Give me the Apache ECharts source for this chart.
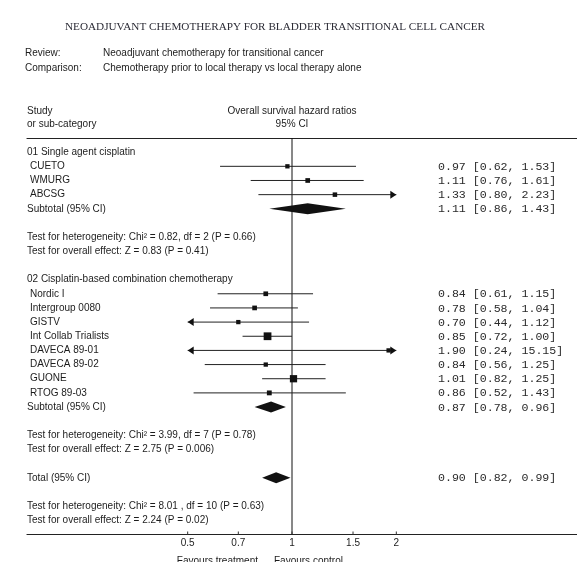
<!DOCTYPE html>
<html><head><meta charset="utf-8">
<script src="https://cdn.jsdelivr.net/npm/echarts@6/dist/echarts.min.js"></script>
<style>html,body{margin:0;padding:0;background:#fff;}#c{width:577px;height:562px;}</style>
</head><body><div id="c"></div><script>
// ---------- data ----------
const titleText = 'NEOADJUVANT CHEMOTHERAPY FOR BLADDER TRANSITIONAL CELL CANCER';
const reviewText = 'Neoadjuvant chemotherapy for transitional cancer';
const comparisonText = 'Chemotherapy prior to local therapy vs local therapy alone';
const outcomeTitle = ['Overall survival hazard ratios', '95% CI'];
const studyHeader = ['Study', 'or sub-category'];

const group1Title = '01 Single agent cisplatin';
const group1Studies = ['CUETO', 'WMURG', 'ABCSG'];
const group1HR = [0.97, 1.11, 1.33];
const group1Lower = [0.62, 0.76, 0.80];
const group1Upper = [1.53, 1.61, 2.23];
const group1Weight = [4, 6, 5];
const group1Subtotal = [1.11, 0.86, 1.43];
const group1Tests = ['Test for heterogeneity: Chi\u00b2 = 0.82, df = 2 (P = 0.66)', 'Test for overall effect: Z = 0.83 (P = 0.41)'];

const group2Title = '02 Cisplatin-based combination chemotherapy';
const group2Studies = ['Nordic I', 'Intergroup 0080', 'GISTV', 'Int Collab Trialists', 'DAVECA 89-01', 'DAVECA 89-02', 'GUONE', 'RTOG 89-03'];
const group2HR = [0.84, 0.78, 0.70, 0.85, 1.90, 0.84, 1.01, 0.86];
const group2Lower = [0.61, 0.58, 0.44, 0.72, 0.24, 0.56, 0.82, 0.52];
const group2Upper = [1.15, 1.04, 1.12, 1.00, 15.15, 1.25, 1.25, 1.43];
const group2Weight = [6, 6, 4, 37, 4, 4, 30, 7];
const group2Subtotal = [0.87, 0.78, 0.96];
const group2Tests = ['Test for heterogeneity: Chi\u00b2 = 3.99, df = 7 (P = 0.78)', 'Test for overall effect: Z = 2.75 (P = 0.006)'];

const totalLabel = 'Total (95% CI)';
const totalValues = [0.90, 0.82, 0.99];
const totalTests = ['Test for heterogeneity: Chi\u00b2 = 8.01 , df = 10 (P = 0.63)', 'Test for overall effect: Z = 2.24 (P = 0.02)'];

const axisTicks = [0.5, 0.7, 1, 1.5, 2];
const axisTickLabels = ['0.5', '0.7', '1', '1.5', '2'];
const favoursLabels = ['Favours treatment', 'Favours control'];

// ---------- layout ----------
const plotMin = 0.5, plotMax = 2;        // display limits (arrows beyond)
const pxPerUnit = 150.5, oneX = 292, gridLeft = 27, gridRight = 0, W = 577;
const xMin = -(oneX - gridLeft) / pxPerUnit;
const xMax = (W - gridRight - oneX) / pxPerUnit;
const ciTextX = 438;
const ln = v => Math.log(v);
const f2 = v => v.toFixed(2);

// build rows
const rows = [];
let pos = 0;
function addGroup(title, names, hr, lo, hi, w, sub, tests) {
  rows.push({type: 'header', text: title, pos: pos++});
  names.forEach((n, i) => rows.push({type: 'study', text: n, hr: hr[i], lo: lo[i], hi: hi[i], w: w[i], pos: pos++}));
  rows.push({type: 'diamond', text: 'Subtotal (95% CI)', hr: sub[0], lo: sub[1], hi: sub[2], pos: pos++});
  pos++;
  tests.forEach(t => rows.push({type: 'header', text: t, pos: pos++}));
  pos++;
}
addGroup(group1Title, group1Studies, group1HR, group1Lower, group1Upper, group1Weight, group1Subtotal, group1Tests);
addGroup(group2Title, group2Studies, group2HR, group2Lower, group2Upper, group2Weight, group2Subtotal, group2Tests);
rows.push({type: 'diamond', text: totalLabel, hr: totalValues[0], lo: totalValues[1], hi: totalValues[2], pos: pos++});
pos++;
totalTests.forEach(t => rows.push({type: 'header', text: t, pos: pos++}));
const lastRow = pos; // axis row

const TXT = '#1c1c1c';
const sans = 'Liberation Sans, Arial, sans-serif';
const mono = 'Liberation Mono, Courier New, monospace';

function renderRow(params, api) {
  const r = rows[api.value(2)];
  const y = api.coord([0, r.pos])[1];
  const left = api.coord([xMin, r.pos])[0];
  const children = [];
  const indent = r.type === 'study' ? 3 : 0;
  children.push({type: 'text', style: {text: r.text, x: left + indent, y: y, fill: TXT, font: '10px ' + sans, textVerticalAlign: 'middle', textAlign: 'left'}});
  if (r.type === 'study' || r.type === 'diamond') {
    children.push({type: 'text', style: {text: f2(r.hr) + ' [' + f2(r.lo) + ', ' + f2(r.hi) + ']', x: ciTextX, y: y + 0.5, fill: '#2a2a2a', font: '11.6px ' + mono, textVerticalAlign: 'middle', textAlign: 'left'}});
  }
  if (r.type === 'study') {
    const xl = api.coord([ln(Math.max(r.lo, plotMin)), r.pos])[0];
    const xh = api.coord([ln(Math.min(r.hi, plotMax)), r.pos])[0];
    const xc = api.coord([ln(r.hr), r.pos])[0];
    children.push({type: 'line', shape: {x1: xl, y1: y, x2: xh, y2: y}, style: {stroke: '#222', lineWidth: 1}});
    if (r.lo < plotMin) children.push({type: 'polygon', shape: {points: [[xl, y], [xl + 6, y - 4], [xl + 6, y + 4]]}, style: {fill: '#111'}});
    if (r.hi > plotMax) children.push({type: 'polygon', shape: {points: [[xh, y], [xh - 6, y - 4], [xh - 6, y + 4]]}, style: {fill: '#111'}});
    const s = 2.6 + 0.85 * Math.sqrt(r.w);
    children.push({type: 'rect', shape: {x: xc - s / 2, y: y - s / 2, width: s, height: s}, style: {fill: '#111'}});
  }
  if (r.type === 'diamond') {
    const xl = api.coord([ln(r.lo), r.pos])[0];
    const xh = api.coord([ln(r.hi), r.pos])[0];
    const xc = api.coord([ln(r.hr), r.pos])[0];
    children.push({type: 'polygon', shape: {points: [[xl, y], [xc, y - 5.5], [xh, y], [xc, y + 5.5]]}, style: {fill: '#111'}});
  }
  return {type: 'group', children};
}

function renderTick(params, api) {
  const v = axisTicks[api.value(2)];
  const p = api.coord([ln(v), lastRow]);
  return {type: 'group', children: [
    {type: 'line', shape: {x1: p[0], y1: p[1] - 3, x2: p[0], y2: p[1]}, style: {stroke: '#333', lineWidth: 1}},
    {type: 'text', style: {text: axisTickLabels[api.value(2)], x: p[0], y: p[1] + 9, fill: TXT, font: '10px ' + sans, textAlign: 'center', textVerticalAlign: 'middle'}}
  ]};
}

function renderRef(params, api) {
  const top = api.coord([0, -1]);
  const bot = api.coord([0, lastRow]);
  return {type: 'group', children: [
    {type: 'line', shape: {x1: top[0], y1: top[1], x2: bot[0], y2: bot[1]}, style: {stroke: '#111', lineWidth: 1}},
    {type: 'text', style: {text: favoursLabels[0], x: bot[0] - 34, y: bot[1] + 27, fill: TXT, font: '10px ' + sans, textAlign: 'right', textVerticalAlign: 'middle'}},
    {type: 'text', style: {text: favoursLabels[1], x: bot[0] - 18, y: bot[1] + 27, fill: TXT, font: '10px ' + sans, textAlign: 'left', textVerticalAlign: 'middle'}}
  ]};
}

const chart = echarts.init(document.getElementById('c'), null, {renderer: 'canvas'});
const axisLineStyle = {show: true, onZero: false, lineStyle: {color: '#222', width: 1.2}};
chart.setOption({
  animation: false,
  backgroundColor: '#fff',
  grid: {left: gridLeft, right: gridRight, top: 138, bottom: 27.5},
  xAxis: [
    {type: 'value', min: xMin, max: xMax, position: 'bottom', axisLine: axisLineStyle, axisTick: {show: false}, axisLabel: {show: false}, splitLine: {show: false}},
    {type: 'value', min: xMin, max: xMax, position: 'top', axisLine: axisLineStyle, axisTick: {show: false}, axisLabel: {show: false}, splitLine: {show: false}}
  ],
  yAxis: {type: 'value', min: -1, max: lastRow, inverse: true, show: false},
  graphic: [
    {type: 'text', x: 275, y: 22, style: {text: titleText, fill: '#2b2b35', font: '11.2px Liberation Serif, Times New Roman, serif', textAlign: 'center'}},
    {type: 'text', x: 25, y: 48, style: {text: 'Review:', fill: TXT, font: '10px ' + sans}},
    {type: 'text', x: 103, y: 48, style: {text: reviewText, fill: TXT, font: '10px ' + sans}},
    {type: 'text', x: 25, y: 63, style: {text: 'Comparison:', fill: TXT, font: '10px ' + sans}},
    {type: 'text', x: 103, y: 63, style: {text: comparisonText, fill: TXT, font: '10px ' + sans}},
    {type: 'text', x: 27, y: 106, style: {text: studyHeader[0], fill: TXT, font: '10px ' + sans}},
    {type: 'text', x: 27, y: 119, style: {text: studyHeader[1], fill: TXT, font: '10px ' + sans}},
    {type: 'text', x: oneX, y: 106, style: {text: outcomeTitle[0], fill: TXT, font: '10px ' + sans, textAlign: 'center'}},
    {type: 'text', x: oneX, y: 119, style: {text: outcomeTitle[1], fill: TXT, font: '10px ' + sans, textAlign: 'center'}}
  ],
  series: [
    {type: 'custom', renderItem: renderRef, data: [[0, 0, 0]], clip: false, silent: true},
    {type: 'custom', renderItem: renderRow, data: rows.map((r, i) => [0, r.pos, i]), clip: false, silent: true},
    {type: 'custom', renderItem: renderTick, data: axisTicks.map((v, i) => [ln(v), lastRow, i]), clip: false, silent: true}
  ]
});
</script></body></html>
